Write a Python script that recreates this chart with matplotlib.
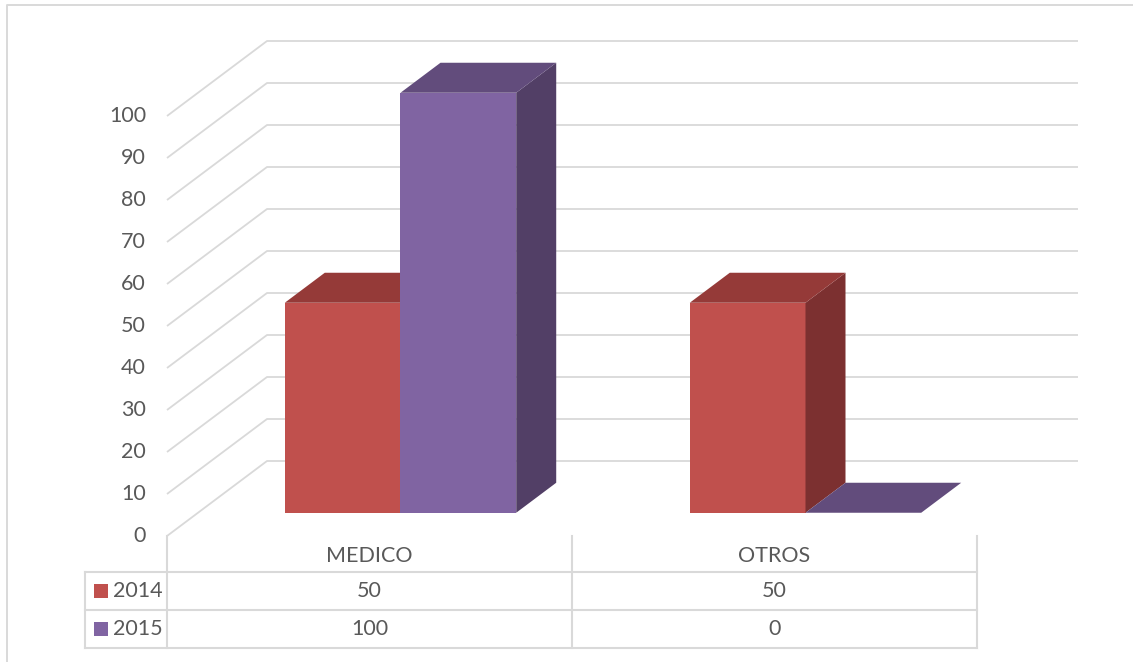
import matplotlib
matplotlib.use("Agg")
import matplotlib.pyplot as plt
from matplotlib.patches import Polygon, Rectangle
from matplotlib.lines import Line2D

# ---- data ----
categories = ["MEDICO", "OTROS"]
series_names = ["2014", "2015"]
values_2014 = [50, 50]
values_2015 = [100, 0]
y_ticks = [0, 10, 20, 30, 40, 50, 60, 70, 80, 90, 100]

# ---- colours ----
front_colors = ["#C0504D", "#8064A2"]
top_colors = ["#953A38", "#624C7C"]
side_colors = ["#7C3030", "#523F66"]
grid_color = "#D9D9D9"
text_color = "#595959"

# ---- layout (pixels) ----
W, H = 1133, 662
X0_PX, CAT_PX = 167, 405          # front-left corner of floor, width of one category
Y0_PX, UNIT_PX = 536, 4.2         # front baseline, pixels per value unit
DEPTH_DX_PX, DEPTH_DY_PX = 100, 75  # full floor depth projection
BACK_RIGHT_PX = 1078

fig = plt.figure(figsize=(W / 100, H / 100), dpi=100)
ax = fig.add_axes([0, 0, 1, 1])
ax.set_xlim(-X0_PX / CAT_PX, (W - X0_PX) / CAT_PX)
ax.set_ylim(-(H - Y0_PX) / UNIT_PX, Y0_PX / UNIT_PX)
ax.axis("off")

ddx = DEPTH_DX_PX / CAT_PX
ddy = DEPTH_DY_PX / UNIT_PX
n_cat = len(categories)
x_back_right = (BACK_RIGHT_PX - X0_PX) / CAT_PX


def px_x(p):
    return (p - X0_PX) / CAT_PX


def px_y(p):
    return (Y0_PX - p) / UNIT_PX


# outer chart frame
ax.add_line(Line2D([px_x(7), px_x(7), px_x(W + 5)], [px_y(H + 5), px_y(5), px_y(5)],
                   color=grid_color, lw=1.4, zorder=1))

# side wall and back wall gridlines
for v in y_ticks:
    ax.add_line(Line2D([0, ddx, x_back_right], [v, v + ddy, v + ddy],
                       color=grid_color, lw=1.3, zorder=1, solid_capstyle="butt"))
    ax.text(px_x(146), v, str(v), ha="right", va="center",
            fontsize=15.5, color=text_color, family="Lato")

# 3D columns
gap_width = 1.5
bar_w = 1.0 / (len(series_names) + gap_width)
d_front, d_back = 0.31, 0.71
all_values = [values_2014, values_2015]

for c in range(n_cat):
    for s in range(len(series_names)):
        v = all_values[s][c]
        x_left = c + gap_width * bar_w / 2 + s * bar_w + d_front * ddx
        x_right = x_left + bar_w
        y_base = d_front * ddy
        y_top = y_base + v
        ox = (d_back - d_front) * ddx
        oy = (d_back - d_front) * ddy
        z = 3 + c * 2 + s
        if v > 0:
            ax.add_patch(Rectangle((x_left, y_base), bar_w, v,
                                   facecolor=front_colors[s], edgecolor="none", zorder=z))
            ax.add_patch(Polygon([(x_right, y_base), (x_right + ox, y_base + oy),
                                  (x_right + ox, y_top + oy), (x_right, y_top)],
                                 closed=True, facecolor=side_colors[s], edgecolor="none", zorder=z))
        ax.add_patch(Polygon([(x_left, y_top), (x_right, y_top),
                              (x_right + ox, y_top + oy), (x_left + ox, y_top + oy)],
                             closed=True, facecolor=top_colors[s], edgecolor="none", zorder=z))

# ---- data table ----
row_y = [572, 610, 648]
legend_left = 85
x_cols = [0] + [c + 1 for c in range(n_cat)]
tkw = dict(color=grid_color, lw=1.5, zorder=2, solid_capstyle="projecting")
for ry in row_y:
    ax.add_line(Line2D([px_x(legend_left), n_cat], [px_y(ry), px_y(ry)], **tkw))
ax.add_line(Line2D([px_x(legend_left)] * 2, [px_y(row_y[0]), px_y(row_y[-1])], **tkw))
for xc in x_cols:
    ax.add_line(Line2D([xc, xc], [0, px_y(row_y[-1])], **tkw))

for c, cat in enumerate(categories):
    ax.text(c + 0.5, px_y(556), cat, ha="center", va="center",
            fontsize=15.5, color=text_color, family="Lato")

for s, name in enumerate(series_names):
    yc = px_y((row_y[s] + row_y[s + 1]) / 2)
    ax.add_patch(Rectangle((px_x(94), px_y(row_y[s] + 26)), 14 / CAT_PX, 14 / UNIT_PX,
                           facecolor=front_colors[s], edgecolor="none", zorder=3))
    ax.text(px_x(113), yc, name, ha="left", va="center",
            fontsize=15.5, color=text_color, family="Lato")
    for c in range(n_cat):
        ax.text(c + 0.5, yc, str(all_values[s][c]), ha="center", va="center",
                fontsize=15.5, color=text_color, family="Lato")

fig.savefig("out.png", dpi=100, facecolor="white")
